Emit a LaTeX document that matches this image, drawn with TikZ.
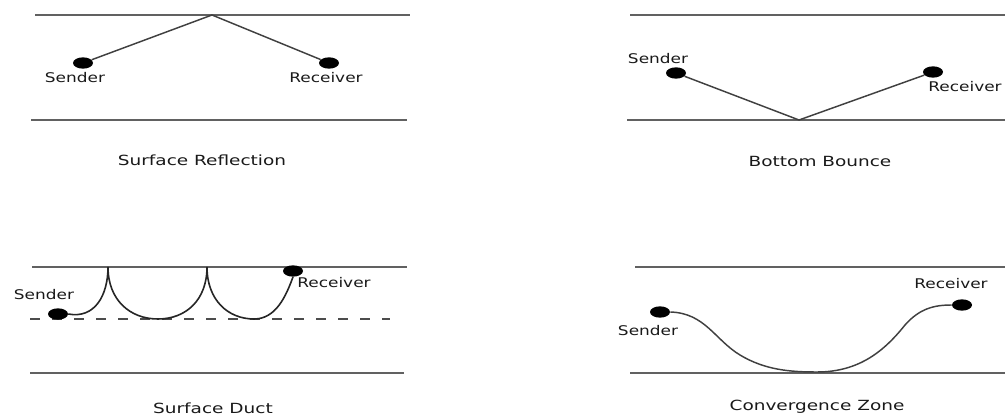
\documentclass[tikz,border=0pt]{standalone}
\usepackage{fontspec}
\setmainfont{DejaVu Sans}
\usetikzlibrary{shapes.geometric}
\begin{document}
\begin{tikzpicture}[x=0.75pt,y=-0.75pt,
  layer/.style={draw=black!62,line width=1.5pt},
  ray/.style={draw=black!75,line width=1.1pt},
  duct/.style={draw=black!70,line width=1.5pt,dash pattern=on 7.5pt off 9pt},
  dot/.style={ellipse,fill=black,inner sep=0pt,minimum width=15pt,minimum height=8.5pt},
  lbl/.style={font=\fontsize{10}{12}\selectfont,text=black!90,xscale=1.27,inner sep=0pt},
  captext/.style={font=\fontsize{10.5}{12}\selectfont,text=black!90,xscale=1.32,inner sep=0pt}]
\useasboundingbox (0,0) rectangle (1005,416);

% --- Surface reflection ---
\coordinate (a1) at (35,15);   \coordinate (a2) at (410,15);
\coordinate (a3) at (31,120);  \coordinate (a4) at (407,120);
\draw[layer] (a1) -- (a2);
\draw[layer] (a3) -- (a4);
\coordinate (apex) at (212,15);
\node[dot] (s1) at (83,63) {};
\node[dot] (r1) at (329,63) {};
\draw[ray] (s1) -- (apex) -- (r1);
\node[lbl] (s1l) at (75,78) {Sender};
\node[lbl] (r1l) at (326,78) {Receiver};
\node[captext] (c1) at (202,160) {Surface Reflection};

% --- Bottom bounce ---
\coordinate (b1) at (630,15);  \coordinate (b2) at (1005,15);
\coordinate (b3) at (627,120); \coordinate (b4) at (1005,120);
\draw[layer] (b1) -- (b2);
\draw[layer] (b3) -- (b4);
\coordinate (bounce) at (799,120);
\node[dot] (s2) at (676,73) {};
\node[dot] (r2) at (933,72) {};
\draw[ray] (s2) -- (bounce) -- (r2);
\node[lbl] (s2l) at (658,59) {Sender};
\node[lbl,anchor=east] (r2l) at (1002,87) {Receiver};
\node[captext] (c2) at (820,161) {Bottom Bounce};

% --- Surface duct ---
\coordinate (d1) at (32,267);  \coordinate (d2) at (407,267);
\coordinate (d3) at (30,373);  \coordinate (d4) at (404,373);
\coordinate (d5) at (30,319);  \coordinate (d6) at (390,319);
\draw[layer] (d1) -- (d2);
\draw[layer] (d3) -- (d4);
\draw[duct] (d5) -- (d6);
\node[dot] (s3) at (58,314) {};
\node[dot] (r3) at (293,271) {};
\coordinate (k1) at (108,267);
\coordinate (k2) at (207,267);
\draw[draw=black!85,line width=1.2pt] (s3.east)
  .. controls (95,319) and (108,295) .. (k1)
  .. controls (108,300) and (130,319) .. (158,319)
  .. controls (186,319) and (207,300) .. (k2)
  .. controls (207,300) and (228,319) .. (254,319)
  .. controls (276,319) and (286,296) .. (r3.south);
\node[lbl] (s3l) at (44,295) {Sender};
\node[lbl] (r3l) at (334,283) {Receiver};
\node[captext] (c3) at (213,408) {Surface Duct};

% --- Convergence zone ---
\coordinate (e1) at (635,267); \coordinate (e2) at (1005,267);
\coordinate (e3) at (630,373); \coordinate (e4) at (1005,373);
\draw[layer] (e1) -- (e2);
\draw[layer] (e3) -- (e4);
\node[dot] (s4) at (660,312) {};
\node[dot] (r4) at (962,305) {};
\draw[draw=black!75,line width=1.1pt] (s4.east)
  .. controls (705,313) and (715,340) .. (740,355)
  .. controls (765,370) and (790,372) .. (817,372)
  .. controls (860,372) and (885,350) .. (905,325)
  .. controls (920,308) and (935,305) .. (r4.west);
\node[lbl] (s4l) at (648,331) {Sender};
\node[lbl] (r4l) at (951,284) {Receiver};
\node[captext] (c4) at (817,407) {Convergence Zone};
\end{tikzpicture}
\end{document}
